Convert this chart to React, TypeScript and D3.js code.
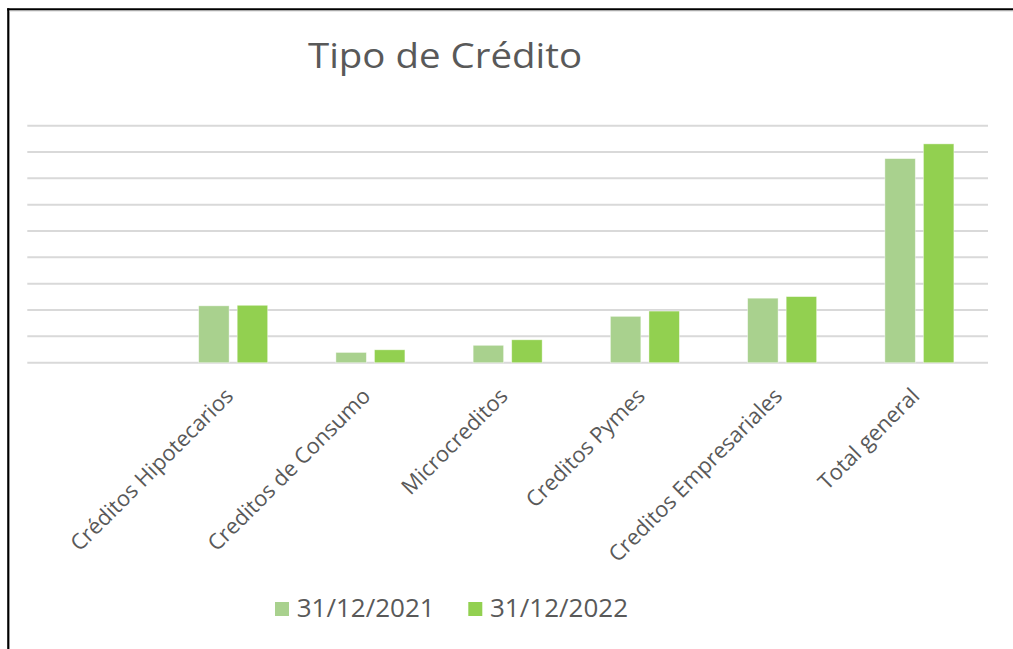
import * as d3 from 'd3';

const W = 1013;
const H = 649;

// first slot is an empty row in the source table
const categories = ['', 'Créditos Hipotecarios', 'Creditos de Consumo', 'Microcreditos', 'Creditos Pymes', 'Creditos Empresariales', 'Total general'];
const seriesNames = ['31/12/2021', '31/12/2022'];
const values2021 = [0, 2.16, 0.39, 0.66, 1.76, 2.45, 7.75];
const values2022 = [0, 2.18, 0.49, 0.87, 1.96, 2.51, 8.31];
const seriesColors = ['#A9D18E', '#92D050'];
const gridTicks = [0, 1, 2, 3, 4, 5, 6, 7, 8, 9];

const PLOT = { left: 27.3, right: 988, top: 125.7, bottom: 362.7 };
const FONT = '"Open Sans", "Noto Sans", sans-serif';
const TEXT = '#595959';

export default function App() {
  const x = d3.scaleBand<string>().domain(categories.map((c, i) => `${i}`)).range([PLOT.left, PLOT.right]);
  const xSub = d3.scaleBand<string>().domain(seriesNames).range([-34.5, 34.5]).paddingInner(0.21);
  const y = d3.scaleLinear().domain([0, 9]).range([PLOT.bottom, PLOT.top]);
  const series = [values2021, values2022];

  return (
    <svg width={W} height={H} style={{ position: 'absolute', left: 0, top: 0, background: '#fff' }} fontFamily={FONT}>
      <rect x={0} y={0} width={W} height={H} fill="#fff" />
      {/* frame: left + top edges only */}
      <line x1={8.3} x2={8.3} y1={8.3} y2={H} stroke="#000" strokeWidth={2.2} />
      <line x1={7.2} x2={W} y1={9.3} y2={9.3} stroke="#000" strokeWidth={2.2} />
      <line x1={9.4} x2={W} y1={11} y2={11} stroke="#d4d4d4" strokeWidth={1} />

      <text x={445} y={67.7} textAnchor="middle" fontSize={35} fill={TEXT} textLength={274} lengthAdjust="spacingAndGlyphs">
        Tipo de Crédito
      </text>

      {gridTicks.map((t) => (
        <line key={t} x1={PLOT.left} x2={PLOT.right} y1={y(t)} y2={y(t)} stroke="#d9d9d9" strokeWidth={2} />
      ))}

      {categories.map((c, i) => {
        const cx = (x(`${i}`) ?? 0) + x.bandwidth() / 2;
        return (
          <g key={i}>
            {series.map((vals, s) =>
              vals[i] > 0 ? (
                <rect
                  key={s}
                  x={cx + (xSub(seriesNames[s]) ?? 0)}
                  y={y(vals[i])}
                  width={xSub.bandwidth()}
                  height={y(0) - y(vals[i])}
                  fill={seriesColors[s]}
                  stroke="#ffffff"
                  strokeOpacity={0.5}
                  strokeWidth={0.8}
                />
              ) : null
            )}
            {c && (
              <text
                transform={`translate(${cx - 4},392) rotate(-45)`}
                textAnchor="end"
                dy="0.35em"
                fontSize={21.8}
                fill={TEXT}
              >
                {c}
              </text>
            )}
          </g>
        );
      })}

      {seriesNames.map((name, s) => {
        const lx = [275, 468.3][s];
        return (
          <g key={name}>
            <rect x={lx} y={602} width={14} height={14} fill={seriesColors[s]} />
            <text x={lx + 21.7} y={616.5} fontSize={26} fill={TEXT}>
              {name}
            </text>
          </g>
        );
      })}
    </svg>
  );
}
